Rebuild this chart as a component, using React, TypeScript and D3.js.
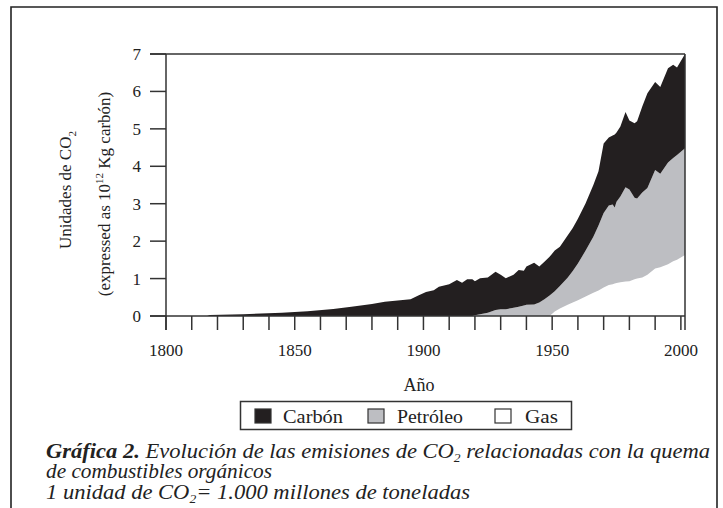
import React from "react";
import * as d3 from "d3";

const years = [1816,1817,1830,1845,1855,1865,1872,1880,1885,1889,1892,1895,1898,1901,1904,1906,1910,1913,1915,1917,1919,1920,1922,1925,1928,1930,1932,1935,1937,1939,1940,1943,1945,1947,1949,1951,1953,1956,1958,1960,1963,1966,1968,1970,1972,1973.5,1974.3,1975,1976.5,1978.5,1980,1982,1983,1985,1987,1990,1992,1995,1997,1998.5,2001.6];
const gas = [0,0,0,0,0,0,0,0,0,0,0,0,0,0,0,0,0,0,0,0,0,0,0,0,0,0,0,0,0,0,0,0,0,0,0,0.12,0.20,0.30,0.36,0.42,0.52,0.62,0.68,0.76,0.83,0.85,0.87,0.88,0.90,0.92,0.93,0.98,1.00,1.03,1.10,1.27,1.30,1.38,1.46,1.50,1.63];
const oil = [0,0,0,0,0,0,0,0,0,0,0,0,0,0,0,0,0,0,0,0,0,0.02,0.05,0.09,0.16,0.18,0.18,0.22,0.25,0.28,0.30,0.31,0.36,0.45,0.55,0.54,0.60,0.72,0.84,0.98,1.23,1.50,1.74,1.99,2.12,2.13,2.03,2.17,2.29,2.52,2.45,2.18,2.14,2.27,2.32,2.63,2.50,2.72,2.76,2.80,2.85];
const coal = [0,0.03,0.05,0.09,0.13,0.19,0.25,0.32,0.38,0.41,0.43,0.45,0.55,0.64,0.69,0.78,0.85,0.96,0.89,0.98,0.98,0.91,0.96,0.94,1.02,0.92,0.83,0.88,0.98,0.93,1.02,1.11,0.96,1.00,1.03,1.09,1.05,1.13,1.15,1.20,1.26,1.38,1.45,1.86,1.82,1.84,1.95,1.85,1.87,2.01,1.84,1.99,2.06,2.30,2.53,2.35,2.32,2.52,2.49,2.34,2.52];

const xTickYears = d3.range(1800, 2001, 10);
const xLabelYears = [1800, 1850, 1900, 1950, 2000];
const yTicks = [0, 1, 2, 3, 4, 5, 6, 7];
const seriesKeys = ["gas", "oil", "coal"];
const seriesColors: Record<string, string> = { gas: "#ffffff", oil: "#bdbec2", coal: "#231f20" };
const legendItems = [
  { key: "coal", label: "Carbón" },
  { key: "oil", label: "Petróleo" },
  { key: "gas", label: "Gas" },
];

const FONT = "'Liberation Serif', 'Times New Roman', serif";
const INK = "#333333";

export default function App() {
  const x = d3.scaleLinear().domain([1800, 2001.6]).range([166, 685]);
  const y = d3.scaleLinear().domain([0, 7]).range([316, 54]);

  const rows = years.map((yr, i) => ({ year: yr, gas: gas[i], oil: oil[i], coal: coal[i] }));
  const stacked = d3.stack<any>().keys(seriesKeys)(rows);
  const area = d3
    .area<any>()
    .x((d) => x(d.data.year))
    .y0((d) => y(d[0]))
    .y1((d) => y(d[1]))
    .curve(d3.curveLinear);

  const legendX = [255, 368, 495];
  const legendTextX = [283, 397, 525];
  const legendTextW = [60, 66, 33];

  return (
    <svg width={723} height={508} style={{ position: "absolute", left: 0, top: 0, background: "#fff" }} fontFamily={FONT}>
      <rect x={0} y={0} width={723} height={508} fill="#fff" />
      {/* outer frame */}
      <path d="M11,520 V7 H717 V520" fill="none" stroke="#222" strokeWidth={1.6} />

      {/* areas */}
      {stacked.map((s) => (
        <path key={s.key} d={area(s) || ""} fill={seriesColors[s.key]} stroke="none" />
      ))}

      {/* axes frame */}
      <line x1={150} x2={685} y1={y(7)} y2={y(7)} stroke={INK} strokeWidth={1.5} />
      <line x1={150} x2={685} y1={y(0)} y2={y(0)} stroke={INK} strokeWidth={1.5} />
      <line x1={x(1800)} x2={x(1800)} y1={y(7)} y2={y(0) + 14} stroke={INK} strokeWidth={1.5} />
      <line x1={685} x2={685} y1={y(7)} y2={y(0) + 14} stroke={INK} strokeWidth={1.5} />
      {yTicks.map((t) => (
        <g key={t}>
          <line x1={150} x2={x(1800)} y1={y(t)} y2={y(t)} stroke={INK} strokeWidth={1.5} />
          <text x={141} y={y(t)} dy="0.35em" textAnchor="end" fontSize={17} fill="#222">
            {t}
          </text>
        </g>
      ))}
      {xTickYears.map((t) => (
        <line key={t} x1={x(t)} x2={x(t)} y1={y(0)} y2={y(0) + 14} stroke={INK} strokeWidth={1.5} />
      ))}
      {xLabelYears.map((t) => (
        <text key={t} x={x(t)} y={356} textAnchor="middle" fontSize={17} fill="#222">
          {t}
        </text>
      ))}
      <text x={419} y={391} textAnchor="middle" fontSize={18} fill="#222">Año</text>

      {/* y axis title */}
      <text transform="translate(71,190) rotate(-90)" textAnchor="middle" fontSize={17} fill="#222">
        Unidades de CO<tspan dy={5} fontSize={11}>2</tspan>
      </text>
      <text transform="translate(110,194) rotate(-90)" textAnchor="middle" fontSize={17} fill="#222">
        (expressed as 10<tspan dy={-7} fontSize={11}>12</tspan><tspan dy={7}> Kg carbón)</tspan>
      </text>

      {/* legend */}
      <rect x={240.5} y={401.5} width={331} height={28} fill="#fff" stroke={INK} strokeWidth={1.5} />
      {legendItems.map((it, i) => (
        <g key={it.key}>
          <rect x={legendX[i]} y={409} width={16} height={14} fill={seriesColors[it.key]} stroke={INK} strokeWidth={1.2} />
          <text x={legendTextX[i]} y={423} fontSize={19} fill="#222" textLength={legendTextW[i]} lengthAdjust="spacingAndGlyphs">{it.label}</text>
        </g>
      ))}

      {/* caption */}
      <text x={46} y={458} fontSize={20} fontStyle="italic" fill="#222" textLength={664} lengthAdjust="spacingAndGlyphs">
        <tspan fontWeight="bold">Gráfica 2.</tspan> Evolución de las emisiones de CO<tspan dy={4} fontSize={12}>2</tspan><tspan dy={-4}> relacionadas con la quema</tspan>
      </text>
      <text x={46} y={478} fontSize={20} fontStyle="italic" fill="#222" textLength={226} lengthAdjust="spacingAndGlyphs">de combustibles orgánicos</text>
      <text x={46} y={499} fontSize={20} fontStyle="italic" fill="#222" textLength={424} lengthAdjust="spacingAndGlyphs">
        1 unidad de CO<tspan dy={4} fontSize={12}>2</tspan><tspan dy={-4}>= 1.000 millones de toneladas</tspan>
      </text>
    </svg>
  );
}
